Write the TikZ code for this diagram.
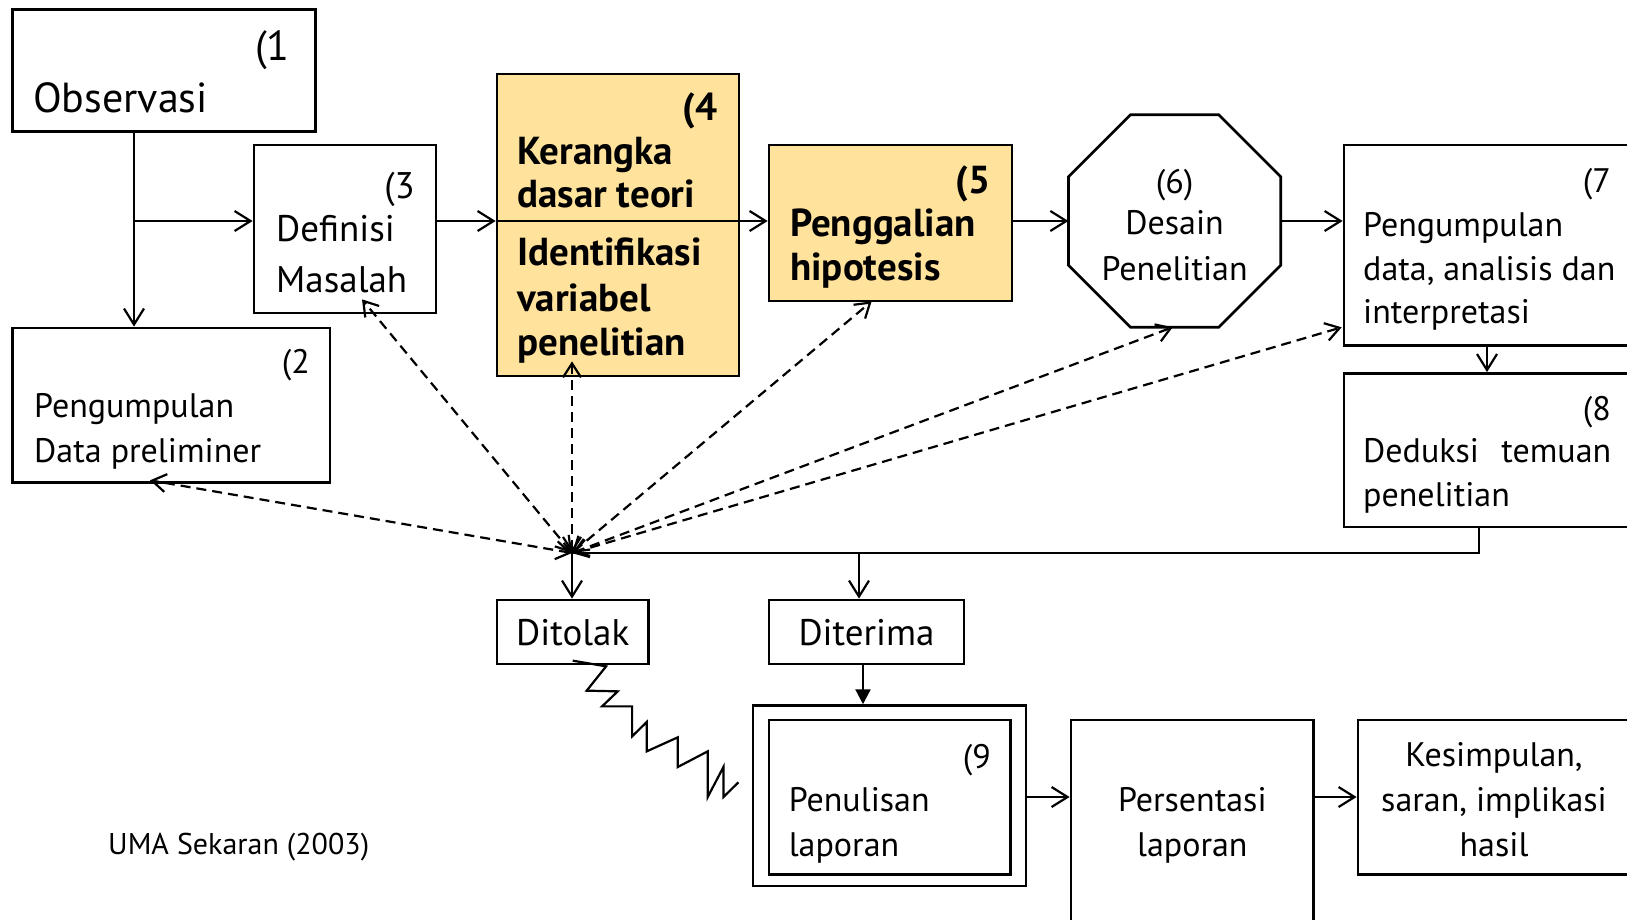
\documentclass[tikz,border=0pt]{standalone}
\usepackage{fontspec}
\setmainfont{PT Sans}
\usetikzlibrary{arrows.meta}
\definecolor{boxfill}{HTML}{FFE29C}
\newcommand\szObs{\fontsize{42}{50}\selectfont}
\newcommand\szDef{\fontsize{37}{44}\selectfont}
\newcommand\szMid{\fontsize{34}{41}\selectfont}
\newcommand\szSml{\fontsize{34}{40}\selectfont}
\newcommand\szBld{\fontsize{39}{46}\selectfont\bfseries}
\newcommand\szNote{\fontsize{30}{36}\selectfont}
\begin{document}
\begin{tikzpicture}[x={(1pt,0pt)}, y={(0pt,-1pt)},
  box/.style={draw, line width=2.7pt, inner sep=0pt},
  hbox/.style={box, fill=boxfill},
  lbl/.style={inner sep=0pt, anchor=base west},
  num/.style={inner sep=0pt, anchor=base east},
  mid/.style={inner sep=0pt, anchor=base},
  conn/.style={line width=2.2pt},
  arr/.style={conn, -{Straight Barb[length=16pt,width=20pt,line width=2.2pt]}},
  tri/.style={conn, -{Triangle[length=15pt,width=15pt]}},
  dash2/.style={conn, dash pattern=on 10pt off 6pt,
    {Straight Barb[length=14pt,width=18pt,line width=2.2pt]}-{Straight Barb[length=14pt,width=18pt,line width=2.2pt]}},
  zig/.style={conn, line join=miter}
]
\useasboundingbox (0,0) rectangle (1627,919);
\clip (0,0) rectangle (1627,919);

% ---------- boxes ----------
\node[box,  minimum width=303,   minimum height=122.5] (obs)  at (164,70.5)    {};
\node[box,  minimum width=317.5, minimum height=154.5] (pre)  at (171.2,405.2) {};
\node[box,  minimum width=182,   minimum height=168]   (def)  at (345,229)     {};
\node[hbox, minimum width=242,   minimum height=302]   (kt)   at (618,225)     {};
\node[hbox, minimum width=243,   minimum height=156]   (hip)  at (890.5,223)   {};
\node[inner sep=0pt, minimum width=212, minimum height=212] (oct) at (1174.6,221) {};
\draw[line width=2.7pt, line join=miter]
  ([xshift=62pt]oct.north west) -- ([xshift=-62pt]oct.north east)
  -- ([yshift=-62pt]oct.north east) -- ([yshift=62pt]oct.south east)
  -- ([xshift=-62pt]oct.south east) -- ([xshift=62pt]oct.south west)
  -- ([yshift=62pt]oct.south west) -- ([yshift=-62pt]oct.north west) -- cycle;
\node[box,  minimum width=301,   minimum height=200.5] (col)  at (1494.5,245.2) {};
\node[box,  minimum width=301,   minimum height=153.5] (ded)  at (1494.5,450.2) {};
\node[box,  minimum width=151.5, minimum height=64]    (tol)  at (572.7,632)   {};
\node[box,  minimum width=195,   minimum height=64]    (ter)  at (866.5,632)   {};
\node[box,  minimum width=273,   minimum height=180.4] (rep)  at (889.5,795.8) {};
\node[box,  minimum width=241.6, minimum height=154.7] (repi) at (889.8,797.3) {};
\node[box,  minimum width=242.6, minimum height=225]   (pres) at (1192.3,832.5) {};
\node[box,  minimum width=287,   minimum height=154.7] (kes)  at (1501.5,797.3) {};

% ---------- texts ----------
\node[num] (n1) at (290,60)  {\szObs (1};
\node[lbl] (t1) at (33,112)  {\szObs Observasi};

\node[num] (n2) at (310,373) {\szSml (2};
\node[lbl] (t2a) at (34,417) {\szSml Pengumpulan};
\node[lbl] (t2b) at (34,462) {\szSml Data preliminer};

\node[num] (n3) at (415,198) {\szDef (3};
\node[lbl] (t3a) at (276,241) {\szDef Definisi};
\node[lbl] (t3b) at (276,292) {\szDef Masalah};

\node[num] (n4) at (718,120) {\szBld (4};
\node[lbl] (t4a) at (517,164) {\szBld Kerangka};
\node[lbl] (t4b) at (517,207.5) {\szBld dasar teori};
\node[lbl] (t4c) at (517,265.6) {\szBld Identifikasi};
\node[lbl] (t4d) at (517,311) {\szBld variabel};
\node[lbl] (t4e) at (517,355) {\szBld penelitian};

\node[num] (n5) at (991,193) {\szBld (5};
\node[lbl] (t5a) at (790,236.6) {\szBld Penggalian};
\node[lbl] (t5b) at (790,280) {\szBld hipotesis};

\node[mid] (n6)  at (1174.6,193) {\szSml (6)};
\node[mid] (t6a) at (1174.6,234.5) {\szSml Desain};
\node[mid] (t6b) at (1174.6,280) {\szSml Penelitian};

\node[num] (n7) at (1611,192) {\szMid (7};
\node[lbl] (t7a) at (1363,236.6) {\szMid Pengumpulan};
\node[lbl] (t7b) at (1363,280) {\szMid data, analisis dan};
\node[lbl] (t7c) at (1363,323.7) {\szMid interpretasi};

\node[num] (n8) at (1611,420) {\szMid (8};
\node[lbl] (t8a) at (1363,462.8) {\szMid \makebox[248pt][s]{Deduksi temuan}};
\node[lbl] (t8b) at (1363,506) {\szMid penelitian};

\node[mid] (ttol) at (572.7,645) {\szDef Ditolak};
\node[mid] (tter) at (866.5,645) {\szDef Diterima};

\node[num] (n9) at (991,768) {\szSml (9};
\node[lbl] (t9a) at (788.6,811) {\szSml Penulisan};
\node[lbl] (t9b) at (788.6,856) {\szSml laporan};

\node[mid] (tpa) at (1192.3,811) {\szSml Persentasi};
\node[mid] (tpb) at (1192.3,856) {\szSml laporan};

\node[mid] (tka) at (1494,766) {\szSml Kesimpulan,};
\node[mid] (tkb) at (1494,811) {\szSml saran, implikasi};
\node[mid] (tkc) at (1494,856) {\szSml hasil};

\node[lbl] (src) at (108,854) {\szNote UMA Sekaran (2003)};

% ---------- main flow ----------
\coordinate (row) at (0,221);
\coordinate (br)  at (134,221);
\draw[conn] (obs.south -| br) -- (br);
\draw[arr] (br) -- (pre.north -| br);
\draw[arr] (br) -- (def.west |- row);
\draw[arr] (def.east |- row) -- (kt.west |- row);
\draw[arr] (kt.west |- row) -- (hip.west |- row);
\draw[arr] (hip.east |- row) -- (oct.west |- row);
\draw[arr] (oct.east |- row) -- (col.west |- row);

\coordinate (c78) at (1487,0);
\draw[arr] (col.south -| c78) -- (ded.north -| c78);

\coordinate (hub) at (572,553);
\coordinate (d8)  at (1478.6,0);
\coordinate (cter) at (859,553);
\draw[conn] (ded.south -| d8) |- (hub);
\draw[arr] (hub) -- (tol.north -| hub);
\draw[arr] (cter) -- (ter.north -| cter);

\coordinate (c9) at (863,0);
\draw[tri] (ter.south -| c9) -- (rep.north -| c9);

\coordinate (row9) at (0,797);
\draw[arr] (rep.east |- row9) -- (pres.west |- row9);
\draw[arr] (pres.east |- row9) -- (kes.west |- row9);

% ---------- feedback (dashed) ----------
\coordinate (e2) at (150,0);
\coordinate (e3) at (362,0);
\coordinate (e5) at (871.6,0);
\coordinate (e6) at (1172.7,0);
\coordinate (e7) at (0,327.3);
\draw[dash2] (hub) -- ([yshift=3.5pt]pre.south -| e2);
\draw[dash2] (hub) -- ([yshift=15pt]def.south -| e3);
\draw[dash2] (hub) -- ([yshift=16pt]kt.south -| hub);
\draw[dash2] (hub) -- ([yshift=1pt]hip.south -| e5);
\draw[dash2] (hub) -- (oct.south -| e6);
\draw[dash2] (hub) -- ([xshift=-1pt]col.west |- e7);

% ---------- rejected path ----------
\draw[zig] ([yshift=4.7pt]tol.south) -- ++(33.4,5.7) -- ++(-19.4,24.3) -- ++(31,0.7)
  -- ++(-15.6,15) -- ++(30,0) -- ++(0,30) -- ++(14.6,-14.3) -- ++(0,29.3)
  -- ++(31,-14) -- ++(0,29.7) -- ++(30,-15.7) -- ++(0,45.7) -- ++(15.7,-30)
  -- ++(0,30) -- ++(15,-14.7);
\end{tikzpicture}
\end{document}
